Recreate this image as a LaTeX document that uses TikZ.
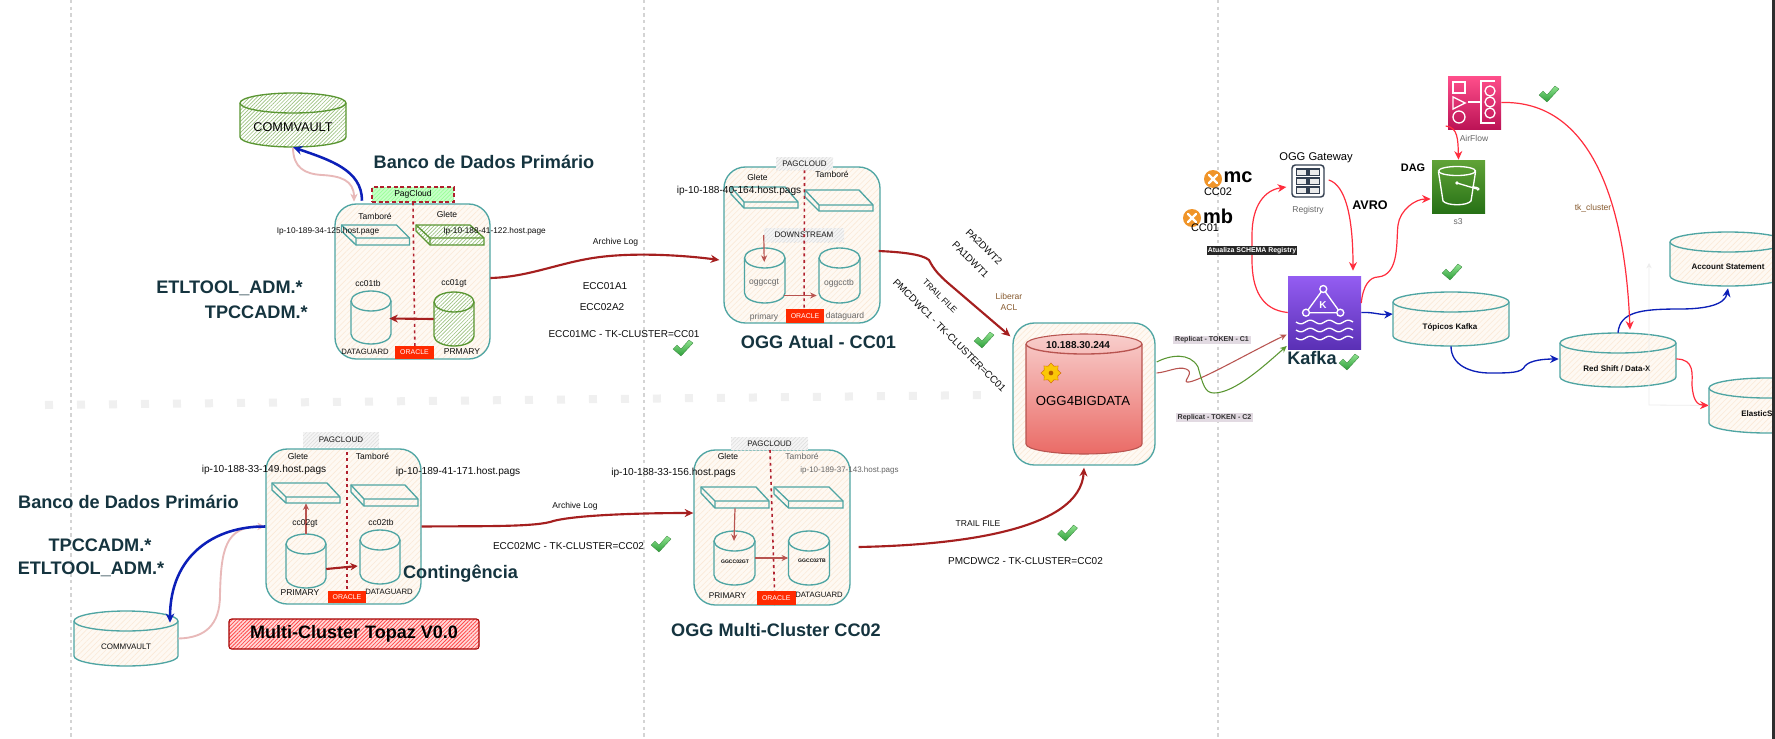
\documentclass[tikz,border=0pt]{standalone}
\usepackage{fontspec}
\setmainfont{Liberation Sans}
\usetikzlibrary{arrows.meta,patterns.meta,shapes.geometric}
\definecolor{tealc}{HTML}{4FA5A3}
\definecolor{peach}{HTML}{FBE9D7}
\definecolor{cream}{HTML}{FEF9F3}
\definecolor{greenc}{HTML}{5A9632}
\definecolor{greenh}{HTML}{9CC27F}
\definecolor{darkred}{HTML}{A51F1F}
\definecolor{dotred}{HTML}{B0202E}
\definecolor{bluec}{HTML}{0C1FB8}
\definecolor{pinkc}{HTML}{E8B9B9}
\definecolor{redc}{HTML}{FF2D3D}
\definecolor{titlec}{HTML}{15343F}
\definecolor{orclr}{HTML}{FF2A00}
\definecolor{graytxt}{HTML}{666666}
\definecolor{replbg}{HTML}{E2DAE2}
\definecolor{replr}{HTML}{B85450}
\definecolor{oggtop}{HTML}{F8CECC}
\definecolor{oggbot}{HTML}{EA6B66}
\definecolor{kaftop}{HTML}{945DF2}
\definecolor{kafbot}{HTML}{5A30B5}
\definecolor{sstop}{HTML}{60A337}
\definecolor{ssbot}{HTML}{277116}
\definecolor{airtop}{HTML}{FF4F8B}
\definecolor{airbot}{HTML}{BC1356}
\definecolor{chktop}{HTML}{8FE38F}
\definecolor{chkbot}{HTML}{2E9E3A}
\definecolor{chkedge}{HTML}{2F7F35}
\definecolor{xorange}{HTML}{F0952A}
\definecolor{regc}{HTML}{333F50}
\tikzset{
  lab/.style={inner sep=0pt,align=center,text=black!95},
  lab85/.style={lab,font=\fontsize{6.4}{7.6}\selectfont},
  lab8/.style={lab,font=\fontsize{6}{7.2}\selectfont},
  lab8b/.style={lab,font=\fontsize{6}{7.2}\selectfont\bfseries},
  lab10/.style={lab,font=\fontsize{7.5}{9}\selectfont},
  host/.style={lab,font=\fontsize{7.6}{9}\selectfont},
  hostsm/.style={lab,font=\fontsize{6.2}{7.4}\selectfont},
  title/.style={lab,text=titlec,font=\fontsize{13.6}{16}\selectfont\bfseries},
  hatchp/.style={preaction={fill=cream},pattern={Lines[angle=45,distance=3pt,line width=.45pt]},pattern color=peach},
  hatchg/.style={preaction={fill=white},pattern={Lines[angle=45,distance=2pt,line width=.5pt]},pattern color=greenh},
  boxn/.style={draw=tealc,line width=1pt,rounded corners=16pt,hatchp,inner sep=0pt},
  cylp/.style={draw=tealc,line width=1pt,hatchp},
  cylg/.style={draw=greenc,line width=1pt,hatchg},
  cylr/.style={draw=replr,line width=.8pt,top color=oggtop,bottom color=oggbot},
  grayl/.style={inner sep=0pt,preaction={fill=black!4},pattern={Lines[angle=45,distance=2pt,line width=.5pt]},pattern color=black!12,text=black!90,font=\fontsize{6}{7.2}\selectfont},
  oracle/.style={fill=orclr,text=white,inner sep=0pt,font=\fontsize{5.2}{6}\selectfont},
  repl/.style={fill=replbg,inner sep=0pt,text=black!80,font=\fontsize{5.3}{6}\selectfont\bfseries},
  dotl/.style={dotred,line width=1.2pt,dash pattern=on 2.2pt off 2.6pt},
  divl/.style={black!17,line width=.8pt,dash pattern=on 2.5pt off 2.5pt},
  tipa/.style={-{Stealth[length=6.5pt,width=6pt]}},
  thick red/.style={darkred,line width=1.6pt,tipa},
  thin red/.style={replr,line width=.9pt,-{Stealth[length=5pt,width=4.5pt]}},
  bluea/.style={bluec,line width=1pt,-{Stealth[length=6.5pt,width=6pt]}},
  blueb/.style={bluec,line width=1.9pt,-{Stealth[length=7pt,width=6.5pt]}},
  pinka/.style={pinkc,line width=1.4pt,-{Stealth[length=6pt,width=5.5pt]}},
  reda/.style={redc,line width=.9pt,-{Stealth[length=6.5pt,width=6pt]}},
  icon/.style={white,line width=1pt},
}
\newcommand\rectnode[7]{%
  \pgfmathsetmacro\nCx{(#2+#4)/2}\pgfmathsetmacro\nCy{(#3+#5)/2}%
  \pgfmathsetmacro\nW{#4-#2}\pgfmathsetmacro\nH{#5-#3}%
  \node[#6,minimum width=\nW*0.75pt,minimum height=\nH*0.75pt] (#1) at (\nCx,\nCy) {#7};}
\newcommand\cylnode[7]{%
  \pgfmathsetmacro\nCx{(#2+#4)/2}\pgfmathsetmacro\nCy{(#3+#5)/2}%
  \pgfmathsetmacro\nW{#4-#2}\pgfmathsetmacro\nH{#5-#3}%
  \pgfmathsetmacro\nKx{0.55*\nW/2}%
  \pgfmathsetmacro\nYt{#3+10}\pgfmathsetmacro\nYb{#5-10}%
  \pgfmathsetmacro\nAt{\nYt-5.5}\pgfmathsetmacro\nBt{\nYt+5.5}\pgfmathsetmacro\nEt{\nYt+10}\pgfmathsetmacro\nBb{\nYb+5.5}%
  \pgfmathsetmacro\nXl{\nCx-\nKx}\pgfmathsetmacro\nXr{\nCx+\nKx}%
  \path[#6] (#2,\nYt) .. controls (#2,\nAt) and (\nXl,#3) .. (\nCx,#3) .. controls (\nXr,#3) and (#4,\nAt) .. (#4,\nYt) -- (#4,\nYb) .. controls (#4,\nBb) and (\nXr,#5) .. (\nCx,#5) .. controls (\nXl,#5) and (#2,\nBb) .. (#2,\nYb) -- cycle;
  \path[draw=#7,line width=1pt] (#2,\nYt) .. controls (#2,\nBt) and (\nXl,\nEt) .. (\nCx,\nEt) .. controls (\nXr,\nEt) and (#4,\nBt) .. (#4,\nYt);
  \node[inner sep=0pt,minimum width=\nW*0.75pt,minimum height=\nH*0.75pt] (#1) at (\nCx,\nCy) {};}
\newcommand\srvnode[3]{\srvnodeB{#1}#2{#3}}
\newcommand\srvnodeB[9]{\def\sA{#1}\def\sB{#2}\def\sC{#3}\def\sD{#4}\def\sE{#5}\def\sF{#6}\def\sG{#7}\def\sH{#8}\def\sI{#9}\srvnodeC}
\newcommand\srvnodeC[2]{%
  \path[#1] (\sB,\sF) -- (\sC,\sF) -- (\sD,\sG) -- (\sD,\sH) -- (\sE,\sH) -- (\sB,\sI) -- cycle;
  \path[draw=#2,line width=1pt] (\sB,\sF) -- (\sE,\sG) -- (\sD,\sG) (\sE,\sG) -- (\sE,\sH);
  \pgfmathsetmacro\nCx{(\sB+\sD)/2}\pgfmathsetmacro\nCy{(\sF+\sH)/2}%
  \pgfmathsetmacro\nW{\sD-\sB}\pgfmathsetmacro\nH{\sH-\sF}%
  \node[inner sep=0pt,minimum width=\nW*0.75pt,minimum height=\nH*0.75pt] (\sA) at (\nCx,\nCy) {};}
\newcommand\chk[2]{%
  \path[shift={(#1,#2)},top color=chktop,bottom color=chkbot,draw=chkedge,line width=.2pt]
   (-10,1) -- (-6,-3) -- (-2,1) -- (6,-8) -- (10,-5) -- (-2,8) -- cycle;}
\newcommand\xcirc[3]{%
  \node[circle,fill=xorange,minimum size=13.5pt,inner sep=0pt] (#1) at (#2,#3) {};
  \draw[white,line width=1.8pt,line cap=round,shift={(#2,#3)}] (-4,-4) -- (4,4) (-4,4) -- (4,-4);}
\begin{document}
\begin{tikzpicture}[x=0.75pt,y=-0.75pt]
\useasboundingbox (0,0) rectangle (1775,739);
\fill[white] (0,0) rectangle (1775,739);
% dividers
\draw[divl] (71,0) -- (71,739);
\draw[divl] (644,0) -- (644,739);
\draw[divl] (1218,0) -- (1218,739);
\draw[black!6,line width=6pt,dash pattern=on 6pt off 18pt] (45,405) -- (990,395);

% ----- Box A
\rectnode{boxA}{335}{204}{490}{359}{boxn}{}
\rectnode{pagA}{372}{187}{454}{202}{draw=dotred,line width=.8pt,densely dashed,inner sep=0pt,preaction={fill=green!22!white},pattern={Lines[angle=45,distance=2pt,line width=.5pt]},pattern color=green!40!white,font=\fontsize{6.4}{7.6}\selectfont}{PagCloud}
\draw[dotl] (pagA.south) -- (415,359);
\srvnode{srvA1}{{341.5}{396.5}{409.5}{356}{225}{238}{245}{231}}{draw=tealc,line width=1pt,hatchp}{tealc}
\srvnode{srvA2}{{416}{470}{484}{430}{225}{238}{245}{231}}{draw=greenc,line width=1pt,hatchg}{greenc}
\node[lab85] (tA1) at (375,216) {Tamboré};
\node[lab85] (tA2) at (447,214) {Glete};
\node[hostsm] (hA1) at (328,231) {Ip-10-189-34-125.host.page};
\node[hostsm] (hA2) at (494.5,231) {Ip-10-188-41-122.host.page};
\cylnode{cyA1}{351}{291}{391}{344}{cylp}{tealc}
\cylnode{cyA2}{434}{292}{474}{346}{cylg}{greenc}
\node[lab85] (tcA1) at (368,283) {cc01tb};
\node[lab85] (tcA2) at (454,283) {cc01gt};
\draw[thick red] (cyA2.west) -- ([shift={(-2,1)}]cyA1.east);
\node[lab,font=\fontsize{5.8}{7}\selectfont] (tdgA) at (365,352) {DATAGUARD};
\node[lab,font=\fontsize{6.4}{7}\selectfont] (tprA) at (462,352) {PRMARY};
\rectnode{orA}{395}{346}{434}{359}{oracle}{ORACLE}
\cylnode{cvA}{240}{93}{346}{147}{cylg}{greenc}
\node[lab,font=\fontsize{9.5}{11}\selectfont,text=black] (tcvA) at (293,127) {COMMVAULT};
\node[title] (tbA) at (484,162) {Banco de Dados Primário};
\node[title,anchor=east] (tetA) at (303,288) {ETLTOOL\_ADM.*};
\node[title,anchor=east] (ttpA) at (308,312) {TPCCADM.*};
\draw[pinka] (cvA.south) .. controls (293,168) and (305,174) .. (322,175) .. controls (340,176) and (354,180) .. ([shift={(-58.5,-2)}]boxA.north);
\draw[blueb] ([shift={(-50.5,-3)}]boxA.north) .. controls (362,170) and (330,160) .. (cvA.south);

% ----- Box B
\rectnode{boxB}{724}{167}{880}{323}{boxn}{}
\rectnode{pagB}{776}{157}{833}{170}{grayl}{PAGCLOUD}
\srvnode{srvB1}{{731}{785}{798}{744}{187}{202}{208}{194}}{draw=tealc,line width=1pt,hatchp}{tealc}
\srvnode{srvB2}{{805}{859}{873}{819}{190}{205}{211}{197}}{draw=tealc,line width=1pt,hatchp}{tealc}
\rectnode{dsB}{764}{228}{844}{242}{grayl}{DOWNSTREAM}
\draw[dotl] (pagB.south) -- (804,323);
\node[lab85] (tB1) at (757.5,177) {Glete};
\node[lab85] (tB2) at (832,174) {Tamboré};
\node[host] (hB1) at (739,191) {ip-10-188-40-164.host.pags};
\cylnode{cyB1}{744.5}{248}{785}{303}{cylp}{tealc}
\cylnode{cyB2}{819}{248}{860}{303}{cylp}{tealc}
\node[lab85,text=graytxt] (tcB1) at (764,283) {oggccgt};
\node[lab85,text=graytxt] (tcB2) at (839,283) {oggcctb};
\draw[thin red] (dsB.west) -- ([shift={(-.5,-13.5)}]cyB1.center);
\draw[thin red] ([shift={(-1,20)}]cyB1.east) -- ([shift={(-2,20)}]cyB2.west);
\node[lab85,text=graytxt] (tpB) at (764,317) {primary};
\node[lab85,text=graytxt] (tdB) at (845,316) {dataguard};
\rectnode{orB}{786}{309}{824}{323}{oracle}{ORACLE}
\node[title] (ttB) at (818.5,342) {OGG Atual - CC01};
\draw[thick red] ([shift={(0,-3.5)}]boxA.east) .. controls (530,277) and (560,262) .. (600,257) .. controls (640,252) and (690,256) .. ([shift={(-4,15)}]boxB.west);
\node[lab85] (tAL1) at (615.5,242) {Archive Log};
\node[lab10] (tE1) at (605,286) {ECC01A1};
\node[lab10] (tE2) at (602,307) {ECC02A2};
\node[lab10] (tE3) at (624,334) {ECC01MC - TK-CLUSTER=CC01};
\chk{683}{348}

% ----- OGG
\rectnode{ogg}{1013}{323}{1155}{465}{boxn}{}
\cylnode{cyO}{1026}{334}{1142}{454}{cylr}{replr}
\node[lab,font=\fontsize{7.5}{9}\selectfont\bfseries] (tip) at (1078,345) {10.188.30.244};
\node[lab,font=\fontsize{9.9}{12}\selectfont,text=black] (togg) at (1083,401) {OGG4BIGDATA};
\node[star,star points=8,star point ratio=1.35,fill=yellow!60!orange,draw=orange!80!black,line width=.3pt,minimum size=15pt,inner sep=0pt] (gear) at (1051,373) {};
\node[circle,fill=orange!70!black,minimum size=3.5pt,inner sep=0pt] (gearh) at (1051,373) {};
\draw[thick red] ([shift={(-2,6)}]boxB.east) .. controls (900,252) and (922,254) .. (929,260) .. controls (934,270) and (940,276) .. (948,283) -- ([shift={(-2,14)}]ogg.north west);
\node[lab10,rotate=-45] (tPA2) at (984,247) {PA2DWT2};
\node[lab10,rotate=-45] (tPA1) at (970.5,260) {PA1DWT1};
\node[lab85,rotate=-45] (tTF1) at (940,296) {TRAIL FILE};
\node[lab10,rotate=-45] (tPM1) at (949.5,335.5) {PMCDWC1 - TK-CLUSTER=CC01};
\node[lab85,text=brown!70!black] (tLib) at (1009,302) {Liberar\\ACL};
\chk{984}{340}

% ----- Box C
\rectnode{boxC}{266}{449}{421}{604}{boxn}{}
\rectnode{pagC}{303}{432}{379}{447}{grayl}{PAGCLOUD}
\draw[dotl,line width=.8pt] (347,452) -- (347,598);
\srvnode{srvC1}{{272}{327}{340}{286}{483}{497}{503}{490}}{draw=tealc,line width=1pt,hatchp}{tealc}
\srvnode{srvC2}{{351}{405}{418}{364}{485}{499}{506}{492}}{draw=tealc,line width=1pt,hatchp}{tealc}
\node[lab85] (tC1) at (298,456) {Glete};
\node[lab85] (tC2) at (372.5,456) {Tamboré};
\node[host] (hC1) at (264,470) {ip-10-188-33-149.host.pags};
\node[host] (hC2) at (458,472) {ip-10-189-41-171.host.pags};
\cylnode{cyC1}{286}{534}{326}{588}{cylp}{tealc}
\cylnode{cyC2}{360}{530}{400}{584}{cylp}{tealc}
\draw[replr,line width=.9pt,-{Stealth[length=5pt,width=4.5pt]}] (cyC1.north) -- (srvC1.south);
\node[lab85] (tcC1) at (305,523) {cc02gt};
\node[lab85] (tcC2) at (381,522) {cc02tb};
\draw[darkred,line width=1.6pt,-{Stealth[length=5.5pt,width=5.5pt]}] ([shift={(0,8)}]cyC1.east) -- ([shift={(-2,9)}]cyC2.west);
\node[lab85] (tpC) at (300,593) {PRIMARY};
\node[lab,font=\fontsize{5.8}{7}\selectfont] (tdC) at (389,592) {DATAGUARD};
\rectnode{orC}{328}{591}{366}{603}{oracle}{ORACLE}
\node[title] (tcont) at (460.5,574) {Contingência};
\node[title] (tbC) at (128.5,502) {Banco de Dados Primário};
\node[title] (ttpC) at (100,545) {TPCCADM.*};
\node[title] (tetC) at (91,569) {ETLTOOL\_ADM.*};
\cylnode{cvC}{74}{611}{178}{666}{cylp}{tealc}
\node[lab8] (tcvC) at (126,647) {COMMVAULT};
\draw[pinka] (cvC.east) .. controls (205,638) and (220,625) .. (220,595) .. controls (221,550) and (225,526) .. (boxC.west);
\draw[blueb] (boxC.west) .. controls (215,526) and (170,555) .. ([shift={(44,12)}]cvC.north);
\rectnode{mcl}{229}{619}{479}{649}{draw=red!65!black,line width=.8pt,rounded corners=2pt,inner sep=0pt,preaction={fill=red!15!white},pattern={Lines[angle=45,distance=2pt,line width=.6pt]},pattern color=red!70!white,text=black,font=\fontsize{13.5}{16}\selectfont\bfseries}{Multi-Cluster Topaz V0.0}

% ----- Box D
\rectnode{boxD}{694}{450}{850}{605}{boxn}{}
\rectnode{pagD}{731}{437}{808}{450}{grayl}{PAGCLOUD}
\draw[dotl] (770,450) -- (775,605);
\srvnode{srvD1}{{701}{756}{769}{715}{487}{501}{508}{493}}{draw=tealc,line width=1pt,hatchp}{tealc}
\srvnode{srvD2}{{774}{829}{843}{788.5}{487}{501}{508}{494}}{draw=tealc,line width=1pt,hatchp}{tealc}
\node[lab85] (tD1) at (728,456) {Glete};
\node[lab85,text=graytxt] (tD2) at (802,456) {Tamboré};
\node[host] (hD1) at (673.5,473) {ip-10-188-33-156.host.pags};
\node[lab,text=graytxt,font=\fontsize{6}{7.2}\selectfont] (hD2) at (849.5,470) {ip-10-189-37-143.host.pags};
\cylnode{cyD1}{714}{531}{755}{585}{cylp}{tealc}
\cylnode{cyD2}{788.5}{531}{829.5}{585}{cylp}{tealc}
\node[lab,font=\fontsize{3.8}{4.5}\selectfont\bfseries] (tcD1) at (735,562) {GGCC02GT};
\node[lab,font=\fontsize{3.8}{4.5}\selectfont\bfseries] (tcD2) at (812,561) {GGCC02TB};
\draw[thin red] (srvD1.south) -- ([shift={(-.5,-17)}]cyD1.center);
\draw[thin red] (cyD1.east) -- (cyD2.west);
\node[lab85,font=\fontsize{6.2}{7.6}\selectfont] (tpD) at (727.5,596) {PRIMARY};
\node[lab,font=\fontsize{5.8}{7}\selectfont] (tdD) at (819,595) {DATAGUARD};
\rectnode{orD}{757}{591}{795.5}{605}{oracle}{ORACLE}
\node[title] (ttD) at (776,630) {OGG Multi-Cluster CC02};
\draw[darkred,line width=1.6pt,tipa] (boxC.east) .. controls (480,526) and (530,527) .. (550,522) .. controls (570,515) and (640,513) .. ([shift={(0,-14.5)}]boxD.west);
\node[lab85] (tAL2) at (575,506) {Archive Log};
\node[lab10] (tE4) at (568.5,546) {ECC02MC - TK-CLUSTER=CC02};
\chk{661}{544}
\draw[thick red] ([shift={(8,19.5)}]boxD.east) .. controls (960,545) and (1080,530) .. ([shift={(0,2)}]ogg.south);
\node[lab85] (tTF2) at (978,524) {TRAIL FILE};
\chk{1067.5}{533}
\node[lab10] (tPM2) at (1025.5,561) {PMCDWC2 - TK-CLUSTER=CC02};

% ----- Kafka
\rectnode{kafka}{1288}{276}{1361}{349}{inner sep=0pt,top color=kaftop,bottom color=kafbot}{}
\draw[icon] (1323.3,289) -- (1306,312.7) -- (1340.3,312.7) -- cycle;
\foreach \px/\py in {1323.3/289,1306/312.7,1340.3/312.7} \draw[icon,fill=kaftop!70!kafbot] (\px,\py) circle[radius=3.5];
\node[inner sep=0pt,text=white,font=\fontsize{7.5}{9}\selectfont\bfseries] (tK) at (1323,305) {K};
\foreach \wy in {322,330,338} \draw[icon,line width=1pt,smooth] plot[domain=1296:1353,samples=40] (\x,{\wy+1.8*sin((\x-1296)*18.947)});
\node[title,anchor=west] (tkafka) at (1287,358) {Kafka};
\chk{1349}{362}
\xcirc{xmc}{1213}{179}
\node[lab,text=black,font=\fontsize{15}{17}\selectfont\bfseries] (tmc) at (1238,177) {mc};
\node[lab,text=black,font=\fontsize{8.2}{10}\selectfont] (tcc2) at (1218,192) {CC02};
\xcirc{xmb}{1192}{218}
\node[lab,text=black,font=\fontsize{15}{17}\selectfont\bfseries] (tmb) at (1218,216) {mb};
\node[lab,text=black,font=\fontsize{8.2}{10}\selectfont] (tcc1) at (1205,228) {CC01};
\node[lab,text=black,font=\fontsize{8.4}{10}\selectfont] (togw) at (1316,158) {OGG Gateway};
\rectnode{regis}{1292}{165}{1324}{197}{draw=regc,line width=1.1pt,rounded corners=2.5pt,fill=white,inner sep=0pt}{}
\foreach \gx in {1296.5,1309}\foreach \gy in {169,178,187}
  \draw[draw=regc,line width=.8pt,fill=black!8] (\gx,\gy) rectangle ++(10.5,6.5);
\node[lab85,text=graytxt] (tReg) at (1308,210) {Registry};
\node[lab,text=black,font=\fontsize{9.4}{11}\selectfont\bfseries] (tAvro) at (1370,205) {AVRO};
\node[lab,text=black,font=\fontsize{8.2}{10}\selectfont\bfseries] (tDag) at (1413,168) {DAG};
\draw[reda] (kafka.west) .. controls (1262,310) and (1252,290) .. (1252,260) -- (1252,235) .. controls (1252,205) and (1265,190) .. ([shift={(-5,6)}]regis.west);
\node[inner sep=0pt,fill=black!85,minimum width=67.5pt,minimum height=6.8pt,text=white,font=\fontsize{5.2}{6}\selectfont\bfseries] (tAtu) at (1252,250.5) {Atualiza SCHEMA Registry};
\draw[reda] ([shift={(4,-1)}]regis.east) .. controls (1345,185) and (1353,215) .. ([shift={(28.5,-5)}]kafka.north);

% ----- S3 & Airflow
\rectnode{sss}{1432}{160}{1485}{213}{inner sep=0pt,top color=sstop,bottom color=ssbot}{}
\draw[icon] (1457,171) ellipse[x radius=18.5,y radius=4.5];
\draw[icon] (1438.5,172) -- (1443,201) .. controls (1447,206) and (1467,206) .. (1471,201) -- (1475.5,172);
\draw[icon] (1457,183) circle[radius=1] -- (1477,189);
\draw[icon] (1472,187) .. controls (1480,187) and (1480,190) .. (1477,190);
\node[lab85,text=graytxt] (ts3) at (1458,222) {s3};
\rectnode{airf}{1448}{76}{1501}{129}{inner sep=0pt,top color=airtop,bottom color=airbot}{}
\draw[icon] (1453,82) rectangle (1465,93);
\draw[icon] (1453,97) -- (1453,109) -- (1465,103) -- cycle;
\draw[icon] (1459,117) circle[radius=6];
\draw[icon] (1468,102) -- (1481,102);
\draw[icon] (1495,81) -- (1481,81) -- (1481,123) -- (1495,123);
\foreach \ay in {91,102,113} \draw[icon] (1490,\ay) circle[radius=5];
\node[lab85,text=graytxt] (tAir) at (1474,138) {AirFlow};
\chk{1549}{94}
\draw[reda] ([shift={(-2,23.5)}]airf.west) .. controls (1458,127) and (1458,140) .. (sss.north);
\draw[reda] ([shift={(0,-9.5)}]kafka.east) .. controls (1363,285) and (1370,277) .. (1378,277) .. controls (1400,275) and (1396,240) .. (1398,225) .. controls (1400,210) and (1415,199) .. ([shift={(-1,12.5)}]sss.west);

% ----- Topics, Redshift etc
\cylnode{tops}{1393}{292}{1509}{346}{cylp}{tealc}
\node[lab8b] (ttops) at (1450,327) {Tópicos Kafka};
\chk{1452}{272}
\cylnode{reds}{1560}{333}{1676}{387}{cylp}{tealc}
\node[lab8b] (treds) at (1617,369) {Red Shift / Data-X};
\cylnode{accs}{1670}{232}{1786}{286}{cylp}{tealc}
\node[lab8b] (taccs) at (1728,267) {Account Statement};
\cylnode{elas}{1709}{378}{1825}{433}{cylp}{tealc}
\node[lab8b,anchor=west] (telas) at (1741,414) {ElasticS};
\coordinate (faintEnd) at (1649,263);
\draw[black!7,line width=.6pt,-{Stealth[length=4pt,width=4pt]}] (elas.west) -- (1649,405) -- (faintEnd);
\draw[bluea] (kafka.east) .. controls (1375,312) and (1378,315) .. ([shift={(0,-5)}]tops.west);
\draw[bluea] (tops.south) .. controls (1451,365) and (1470,373) .. (1490,373) .. controls (1510,373) and (1522,373) .. (1525,366) .. controls (1530,360) and (1545,359) .. ([shift={(-1,-1)}]reds.west);
\draw[bluea] (reds.north) .. controls (1620,312) and (1640,309) .. (1680,309) .. controls (1705,309) and (1725,305) .. ([shift={(0,2)}]accs.south);
\draw[reda] ([shift={(0,-1)}]reds.east) .. controls (1695,359) and (1692,375) .. (1692,385) .. controls (1693,400) and (1697,405) .. (elas.west);
\draw[reda] (airf.east) .. controls (1590,100) and (1625,200) .. ([shift={(12,-3)}]reds.north);
\node[lab85,text=brown!70!black] (ttk) at (1593,208) {tk\_cluster};

% ----- Replicat
\draw[replr,line width=.8pt,-{Stealth[length=5pt,width=4.5pt]}] ([shift={(1,-21)}]ogg.east) .. controls (1168,372) and (1178,366) .. (1186,369) .. controls (1195,372) and (1183,381) .. (1187,382) .. controls (1195,384) and (1250,352) .. ([shift={(-1,22)}]kafka.west);
\draw[greenc,line width=.8pt,-{Stealth[length=5pt,width=4.5pt]}] ([shift={(1,-32)}]ogg.east) .. controls (1170,355) and (1190,352) .. (1198,367) .. controls (1203,385) and (1205,393) .. (1214,393) .. controls (1235,393) and (1265,365) .. ([shift={(-1,33.5)}]kafka.west);
\rectnode{rep1}{1173}{336}{1251}{344}{repl}{Replicat - TOKEN - C1}
\rectnode{rep2}{1176}{413}{1253}{422}{repl}{Replicat - TOKEN - C2}

\fill[black!82] (1772,0) rectangle (1775,739);
\end{tikzpicture}
\end{document}
